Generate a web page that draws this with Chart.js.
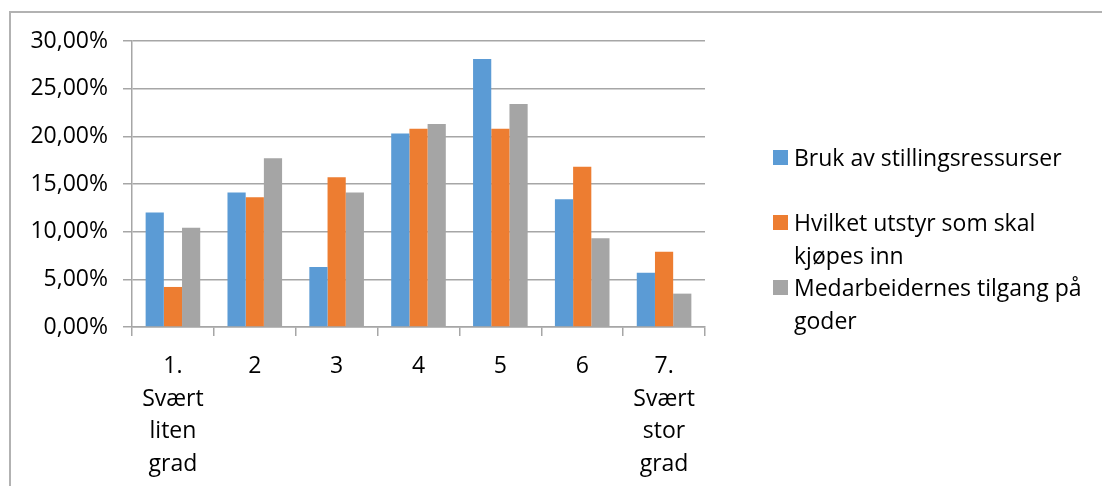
<!DOCTYPE html>
<html>
<head>
<meta charset="utf-8">
<script src="https://cdn.jsdelivr.net/npm/chart.js@4.4.1/dist/chart.umd.min.js"></script>
<style>
  html, body { margin: 0; padding: 0; background: #fff; }
  #wrap { position: relative; width: 1102px; height: 486px; overflow: hidden; }
  #frame { position: absolute; left: 9px; top: 11px; width: 1200px; height: 600px;
           border-left: 2px solid #B2B2B2; border-top: 2px solid #B2B2B2; box-sizing: border-box; }
  #chart { position: absolute; left: 0; top: 0; }
  #legend { position: absolute; left: 773px; top: 141px; width: 318px;
            font-family: "Open Sans", sans-serif; font-size: 23px; color: #000; }
  .item { position: relative; height: 65px; padding-left: 21px; line-height: 32.5px; }
  .swatch { position: absolute; left: 0; top: 9px; width: 15px; height: 15px; }
</style>
</head>
<body>
<div id="wrap">
  <div id="frame"></div>
  <canvas id="chart" width="1102" height="486"></canvas>
  <div id="legend"></div>
</div>
<script>
// Response scale: 1 = very small extent ... 7 = very large extent
const categories = [
  ["1.", "Svært", "liten", "grad"],
  ["2"],
  ["3"],
  ["4"],
  ["5"],
  ["6"],
  ["7.", "Svært", "stor", "grad"]
];
const seriesNames = [
  "Bruk av stillingsressurser",
  "Hvilket utstyr som skal kjøpes inn",
  "Medarbeidernes tilgang på goder"
];
// Share of answers in percent
const brukAvStillingsressurser = [12.0, 14.1, 6.3, 20.3, 28.1, 13.4, 5.7];
const hvilketUtstyr           = [4.2, 13.6, 15.7, 20.8, 20.8, 16.8, 7.9];
const tilgangPaGoder          = [10.4, 17.7, 14.1, 21.3, 23.4, 9.3, 3.5];
const seriesColors = ["#5B9BD5", "#ED7D31", "#A5A5A5"];
const yTicks = { min: 0, max: 30, step: 5 };

const values = [brukAvStillingsressurser, hvilketUtstyr, tilgangPaGoder];
const font = { family: "'Open Sans', sans-serif", size: 23 };
const axisGrey = "#A6A6A6";

const chart = new Chart(document.getElementById("chart"), {
  type: "bar",
  data: {
    labels: categories,
    datasets: seriesNames.map((name, i) => ({
      label: name,
      data: values[i],
      backgroundColor: seriesColors[i],
      borderWidth: 0,
      categoryPercentage: 0.667,
      barPercentage: 1.0
    }))
  },
  options: {
    responsive: false,
    animation: false,
    layout: { padding: { left: 0, top: 41, right: 397, bottom: 0 } },
    plugins: { legend: { display: false }, tooltip: { enabled: false } },
    scales: {
      x: {
        grid: { drawOnChartArea: false, drawTicks: true, tickLength: 9, color: axisGrey, lineWidth: 1.5 },
        border: { display: true, color: axisGrey, width: 1.5 },
        ticks: { color: "#000", font: { ...font, lineHeight: 1.42 }, padding: 14, maxRotation: 0, autoSkip: false },
        afterFit: (s) => { s.height = 159; }
      },
      y: {
        min: yTicks.min, max: yTicks.max,
        grid: { color: axisGrey, lineWidth: 1.5, tickLength: 9 },
        border: { display: true, color: axisGrey, width: 1.5 },
        ticks: {
          stepSize: yTicks.step, color: "#000", font: font, padding: 15,
          callback: (v) => v.toFixed(2).replace(".", ",") + "%"
        },
        afterFit: (s) => { s.width = 132; }
      }
    }
  }
});

// Legend built from the chart's datasets
const legend = document.getElementById("legend");
chart.data.datasets.forEach((ds) => {
  const item = document.createElement("div");
  item.className = "item";
  const sw = document.createElement("span");
  sw.className = "swatch";
  sw.style.background = ds.backgroundColor;
  item.appendChild(sw);
  item.appendChild(document.createTextNode(ds.label));
  legend.appendChild(item);
});
</script>
</body>
</html>
